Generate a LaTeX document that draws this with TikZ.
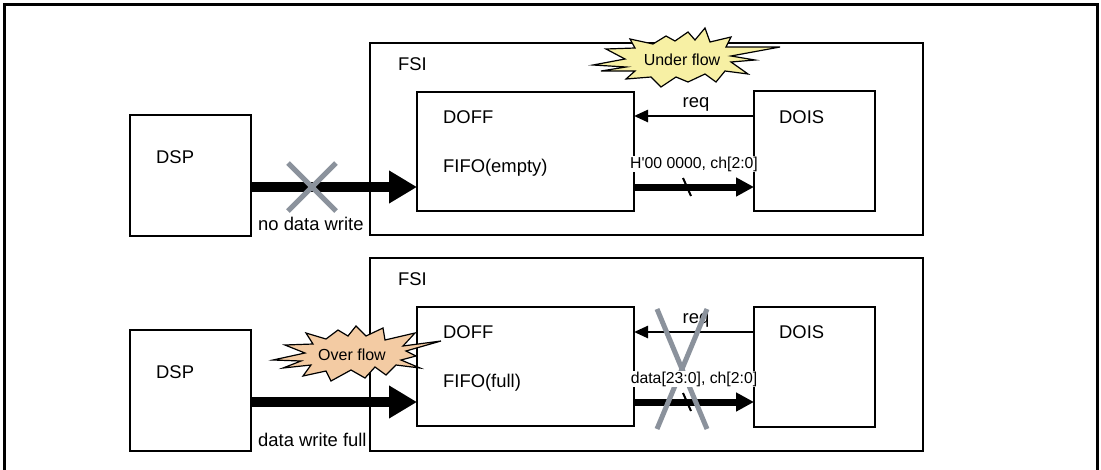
\documentclass[tikz,border=0pt]{standalone}
\usepackage{fontspec}
\setmainfont{Liberation Sans}
\usetikzlibrary{arrows.meta, calc}

\definecolor{burstyellow}{HTML}{F7F0A4}
\definecolor{burstorange}{HTML}{F3CBA3}
\definecolor{crossgray}{HTML}{8B929C}

\begin{document}
\begin{tikzpicture}[
    x=1pt, y=-1pt, % pixel grid, y runs downwards
    box/.style={draw, line width=2.5pt, inner sep=0pt, outer sep=0pt, anchor=north west},
    txt/.style={font=\fontsize{18.4}{22}\selectfont, inner sep=0pt, anchor=base west},
    sig/.style={font=\fontsize{15.8}{18}\selectfont, inner sep=1pt, anchor=base, fill=white},
    burstline/.style={draw, line width=1.2pt, line join=miter},
    bursttxt/.style={font=\fontsize{16}{18}\selectfont, inner sep=0pt},
    bus/.style={line width=10pt, -{Triangle[length=28pt, width=31pt]}},
    link/.style={line width=7pt, -{Triangle[length=18pt, width=18pt]}},
    reqline/.style={line width=2.5pt, -{Triangle[length=14pt, width=12pt]}},
    busmark/.style={line width=2pt},
    cross/.style={draw=crossgray, line width=5pt}
]
    \useasboundingbox (0,0) rectangle (1101,469);

    % outer frame, open at the bottom
    \draw[line width=3pt] (4,480) |- (1097,4) -- (1097,480);

    % ---------- upper case: FIFO empty ----------
    \node[box, minimum width=121pt, minimum height=121pt] (dsp1) at (130,115) {};
    \node[box, minimum width=553pt, minimum height=192pt] (fsi1) at (370,43) {};
    \node[box, minimum width=217pt, minimum height=119pt] (doff1) at (417,92) {};
    \node[box, minimum width=121pt, minimum height=120pt] (dois1) at (754,91) {};

    \node[txt] (fsil1) at (398,70) {FSI};
    \node[txt] (dspl1) at (156,163) {DSP};
    \node[txt] (doffl1) at (443,123) {DOFF};
    \node[txt] (fifol1) at (443,172) {FIFO(empty)};
    \node[txt] (doisl1) at (779,123) {DOIS};

    \coordinate (bus1) at (0,187);
    \coordinate (req1) at (0,116);
    \draw[bus] (dsp1.east |- bus1) -- (doff1.west |- bus1);
    \draw[link] (doff1.east |- bus1) -- (dois1.west |- bus1);
    \draw[reqline] (dois1.west |- req1) -- (doff1.east |- req1);
    \node[txt, anchor=base] (reql1) at (696,107) {req};
    \node[txt] (nowrite) at (258,230) {no data write};

    \coordinate (mark1) at (687,187);
    \draw[busmark] ($(mark1)+(-4,-9)$) -- ($(mark1)+(4,9)$);
    \node[sig] (sigl1) at (694,168) {H\textquotesingle 00 0000, ch[2:0]};

    \coordinate (x1) at (312,187);
    \draw[cross] ($(x1)+(-24,-24)$) -- ($(x1)+(24,24)$)
                 ($(x1)+(24,-24)$) -- ($(x1)+(-24,24)$);

    % starburst "Under flow"
    \coordinate (under) at (685,59);
    \draw[burstline, fill=burstyellow, shift={(under)}]
        (-92,6) -- (-60,0) -- (-79,-10) -- (-50,-11) -- (-55,-20) -- (-32,-15)
        -- (-19,-23) -- (-10,-18) -- (3,-27) -- (10,-19) -- (20,-31) -- (25,-17)
        -- (46,-22) -- (41,-12) -- (95,-12) -- (46,-3) -- (70,1) -- (46,3)
        -- (63,15) -- (40,12) -- (31,23) -- (20,15) -- (3,23) -- (-9,18)
        -- (-24,28) -- (-34,18) -- (-59,20) -- (-50,12) -- (-84,12) -- (-59,8) -- cycle;
    \node[bursttxt] (underl) at ($(under)+(-3,1)$) {Under flow};

    % ---------- lower case: FIFO full ----------
    \node[box, minimum width=121pt, minimum height=121pt] (dsp2) at (130,330) {};
    \node[box, minimum width=553pt, minimum height=193pt] (fsi2) at (370,258) {};
    \node[box, minimum width=217pt, minimum height=119pt] (doff2) at (417,307) {};
    \node[box, minimum width=121pt, minimum height=120pt] (dois2) at (754,307) {};

    \node[txt] (fsil2) at (398,285) {FSI};
    \node[txt] (dspl2) at (156,378) {DSP};
    \node[txt] (doffl2) at (443,338) {DOFF};
    \node[txt] (fifol2) at (443,387) {FIFO(full)};
    \node[txt] (doisl2) at (779,338) {DOIS};

    \coordinate (bus2) at (0,402);
    \coordinate (req2) at (0,332);
    \draw[bus] (dsp2.east |- bus2) -- (doff2.west |- bus2);
    \draw[link] (doff2.east |- bus2) -- (dois2.west |- bus2);
    \draw[reqline] (dois2.west |- req2) -- (doff2.east |- req2);
    \node[txt, anchor=base] (reql2) at (696,323) {req};
    \node[txt] (fullwrite) at (258,446) {data write full};

    \coordinate (x2) at (682,369);
    \draw[cross] ($(x2)+(-25,-60)$) -- ($(x2)+(25,60)$)
                 ($(x2)+(25,-60)$) -- ($(x2)+(-25,60)$);

    \coordinate (mark2) at (687,402);
    \draw[busmark] ($(mark2)+(-4,-9)$) -- ($(mark2)+(4,9)$);
    \node[sig] (sigl2) at (694,383) {data[23:0], ch[2:0]};

    % starburst "Over flow"
    \coordinate (over) at (357,352);
    \draw[burstline, fill=burstorange, shift={(over)}]
        (-84,8) -- (-52,1) -- (-72,-7) -- (-44,-8) -- (-51,-19) -- (-31,-13)
        -- (-19,-22) -- (-9,-16) -- (-1,-26) -- (9,-16) -- (26,-24) -- (28,-12)
        -- (58,-19) -- (46,-6) -- (84,-11) -- (49,-1) -- (59,4) -- (44,8)
        -- (63,16) -- (39,13) -- (29,23) -- (18,15) -- (8,26) -- (-6,18)
        -- (-26,29) -- (-31,19) -- (-54,24) -- (-46,13) -- (-74,16) -- (-56,9) -- cycle;
    \node[bursttxt] (overl) at ($(over)+(-5,3)$) {Over flow};
\end{tikzpicture}
\end{document}
